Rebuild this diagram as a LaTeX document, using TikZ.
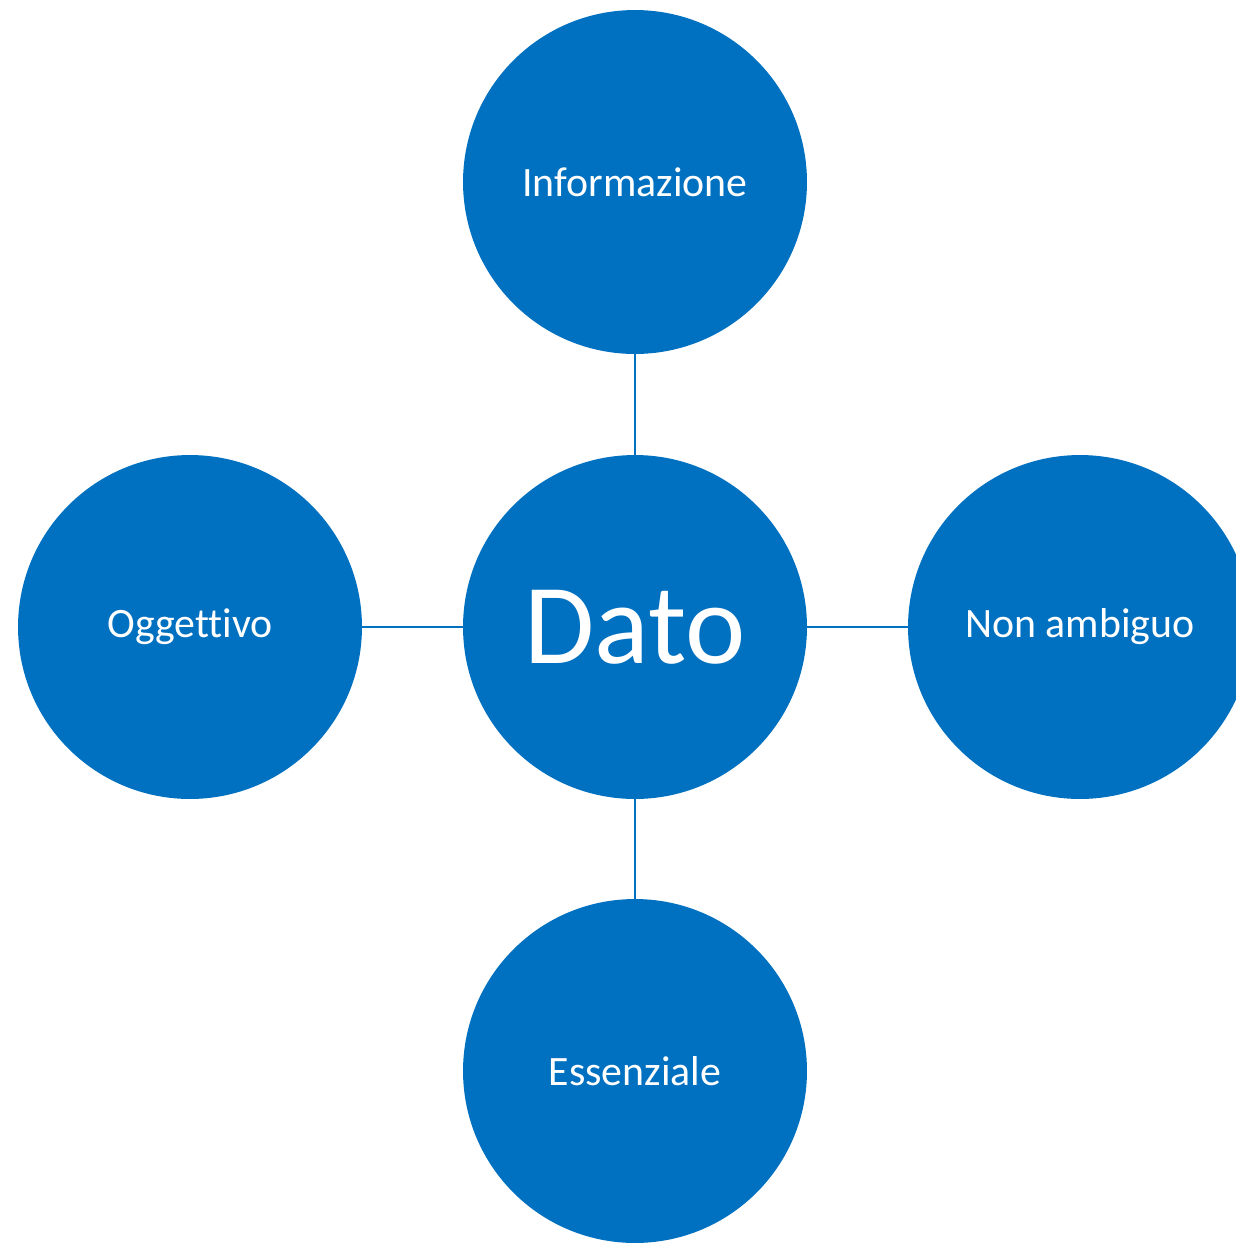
\documentclass[tikz,border=0pt]{standalone}
\usepackage{fontspec}
\setmainfont[Ligatures=NoCommon]{Carlito}
\usetikzlibrary{positioning}
\definecolor{datoblue}{HTML}{0070C0}
\tikzset{
  bubble/.style={circle, fill=datoblue, text=white, minimum size=6.88cm,
    inner sep=0pt, outer sep=0pt, font=\fontsize{23.8}{28}\selectfont},
  link/.style={draw=datoblue, line width=1.5pt}
}

\begin{document}
\begin{tikzpicture}[x=0.02cm, y=-0.02cm]
  \useasboundingbox (0, 0) rectangle (1236, 1245);
  \node [bubble, font=\fontsize{65}{72}\selectfont] (dato) at (635, 627) {Dato};
  \node [bubble] (info) at (635, 182) {Informazione};
  \node [bubble] (ogg) at (190, 627) {Oggettivo};
  \node [bubble] (amb) at (1080, 627) {Non ambiguo};
  \node [bubble] (ess) at (635, 1071) {Essenziale};
  \draw [link] (dato) -- (info);
  \draw [link] (dato) -- (ogg);
  \draw [link] (dato) -- (amb);
  \draw [link] (dato) -- (ess);
\end{tikzpicture}
\end{document}
